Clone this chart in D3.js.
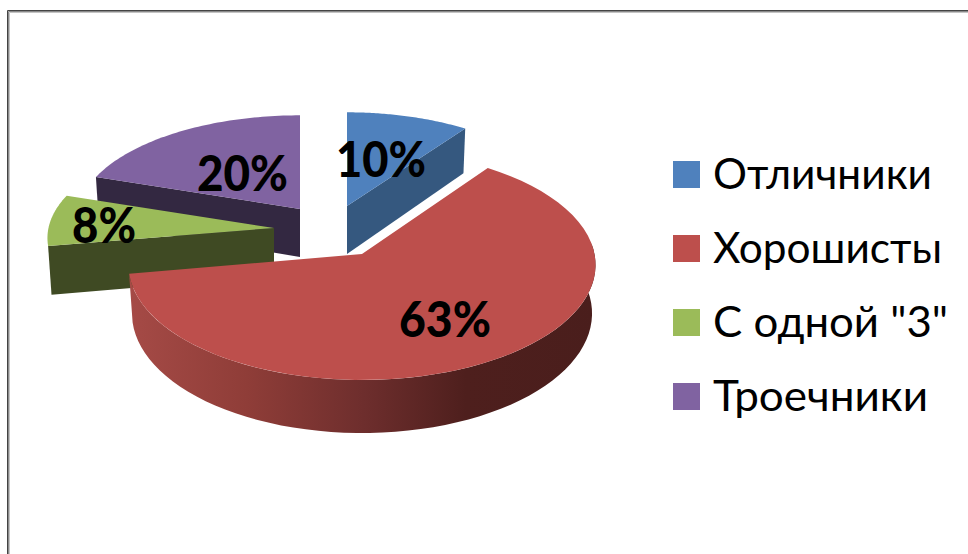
<!DOCTYPE html>
<html>
<head>
<meta charset="utf-8">
<script src="https://cdn.jsdelivr.net/npm/d3@7"></script>
<style>
  html, body { margin: 0; padding: 0; background: #fff; }
  svg { display: block; }
  text { font-family: Lato, "Open Sans", sans-serif; fill: #000; }
</style>
</head>
<body>
<div id="chart"></div>
<script>
// Chart data
const categories = ['Отличники', 'Хорошисты', 'С одной "3"', 'Троечники'];
const shares = [10, 63, 8, 20];
const shareLabels = ['10%', '63%', '8%', '20%'];

const width = 968;
const height = 554;

// Colours per category: top face and cut wall
const topColors = ['#4f81bd', '#bd4f4c', '#9bbb59', '#8063a1'];
const wallColors = ['#35587f', '#4c1e1c', '#3f4a23', '#332841'];

// Where each exploded slice ended up: apex on screen, and how much it shrank
const layout = [
  { x: 347, y: 206, sx: 0.94, sy: 0.9, label: [381, 177], labelWidth: 90 },
  { x: 362, y: 254, sx: 1, sy: 1, label: [445, 337], labelWidth: 92 },
  { x: 274, y: 228, sx: 0.97, sy: 0.91, label: [104, 243], labelWidth: 64 },
  { x: 300, y: 209, sx: 0.955, sy: 0.9, label: [242.5, 191], labelWidth: 91 }
];

// The legend font runs a bit narrower than the original, so fix the widths
const legendWidths = [219, 229, 235, 215];

// Disk sizes and perspective strength
const rx = 232.5;
const ry = 114;
const persp = 0.095;
const depth = 48;
const bottomShrink = 0.985;

const svg = d3.select('#chart').append('svg')
  .attr('width', width)
  .attr('height', height);

// Frame on the top and left edges
[[9, 12, '#c4c4c4'], [8, 11, '#8a8a8a'], [7, 10, '#444']].forEach(([x, y, c]) => {
  svg.append('path')
    .attr('d', `M${x + 0.5},${height}V${y + 0.5}H${width}`)
    .attr('fill', 'none')
    .attr('stroke', c);
});

// Gradient for the round wall of the big slice
const defs = svg.append('defs');
const wallGrad = defs.append('linearGradient')
  .attr('id', 'rimGrad')
  .attr('gradientUnits', 'userSpaceOnUse')
  .attr('x1', 131).attr('x2', 596).attr('y1', 0).attr('y2', 0);
[[0, '#a54a46'], [0.25, '#8f3d38'], [0.5, '#6e2e2d'], [0.72, '#4e1f1d'], [1, '#4a1e1c']].forEach(([o, c]) => {
  wallGrad.append('stop').attr('offset', o).attr('stop-color', c);
});

// Angles come from d3.pie, clockwise from the top
const arcs = d3.pie().sort(null).value(d => d)(shares);

// Project a point of the disk to the screen with a little perspective
function project(i, angle, radius, lower) {
  const u = Math.sin(angle) * radius;
  const v = Math.cos(angle) * radius;
  const w = 1 + persp * v;
  const s = layout[i];
  const xOff = s.sx * rx * u / w * (lower ? bottomShrink : 1);
  const yOff = -s.sy * ry * v / w + (lower ? depth / w : 0);
  return [s.x + xOff, s.y + yOff];
}

function rimPoints(i, a0, a1, lower) {
  const n = 60;
  return d3.range(n + 1).map(k => project(i, a0 + (a1 - a0) * k / n, 1, lower));
}

const line = d3.line();

function drawSlice(i) {
  const { startAngle: a0, endAngle: a1 } = arcs[i];
  const g = svg.append('g');

  // Wall on the cut that faces the viewer
  const cut = i === 0 ? a1 : a0;
  if (i !== 1) {
    g.append('path')
      .attr('d', line([
        project(i, cut, 0, false),
        project(i, cut, 1, false),
        project(i, cut, 1, true),
        project(i, cut, 0, true)
      ]) + 'Z')
      .attr('fill', wallColors[i]);
  } else {
    // Round wall along the front of the big slice
    const from = Math.PI * 0.47;
    const upper = rimPoints(i, from, a1, false);
    const lower = rimPoints(i, from, a1, true).reverse();
    g.append('path')
      .attr('d', line(upper.concat(lower)) + 'Z')
      .attr('fill', 'url(#rimGrad)');
  }

  // Top face
  g.append('path')
    .attr('d', line([project(i, 0, 0, false)].concat(rimPoints(i, a0, a1, false))) + 'Z')
    .attr('fill', topColors[i]);
}

// Back slices first, the big one goes on top
[3, 2, 0, 1].forEach(drawSlice);

// Percent labels
svg.append('g').selectAll('text')
  .data(shareLabels)
  .enter()
  .append('text')
  .attr('x', (d, i) => layout[i].label[0])
  .attr('y', (d, i) => layout[i].label[1])
  .attr('text-anchor', 'middle')
  .attr('textLength', (d, i) => layout[i].labelWidth)
  .attr('lengthAdjust', 'spacingAndGlyphs')
  .style('font-size', '49px')
  .style('font-weight', 900)
  .text(d => d);

// Legend
const legendY = d3.scalePoint()
  .domain(categories)
  .range([174.5, 396.5]);

const legend = svg.append('g').selectAll('g')
  .data(categories)
  .enter()
  .append('g')
  .attr('transform', d => `translate(673,${legendY(d)})`);

legend.append('rect')
  .attr('y', -13.5)
  .attr('width', 27)
  .attr('height', 27)
  .attr('fill', (d, i) => topColors[i]);

legend.append('text')
  .attr('x', 40)
  .attr('y', 14)
  .attr('textLength', (d, i) => legendWidths[i])
  .attr('lengthAdjust', 'spacingAndGlyphs')
  .style('font-size', '43px')
  .text(d => d);
</script>
</body>
</html>
